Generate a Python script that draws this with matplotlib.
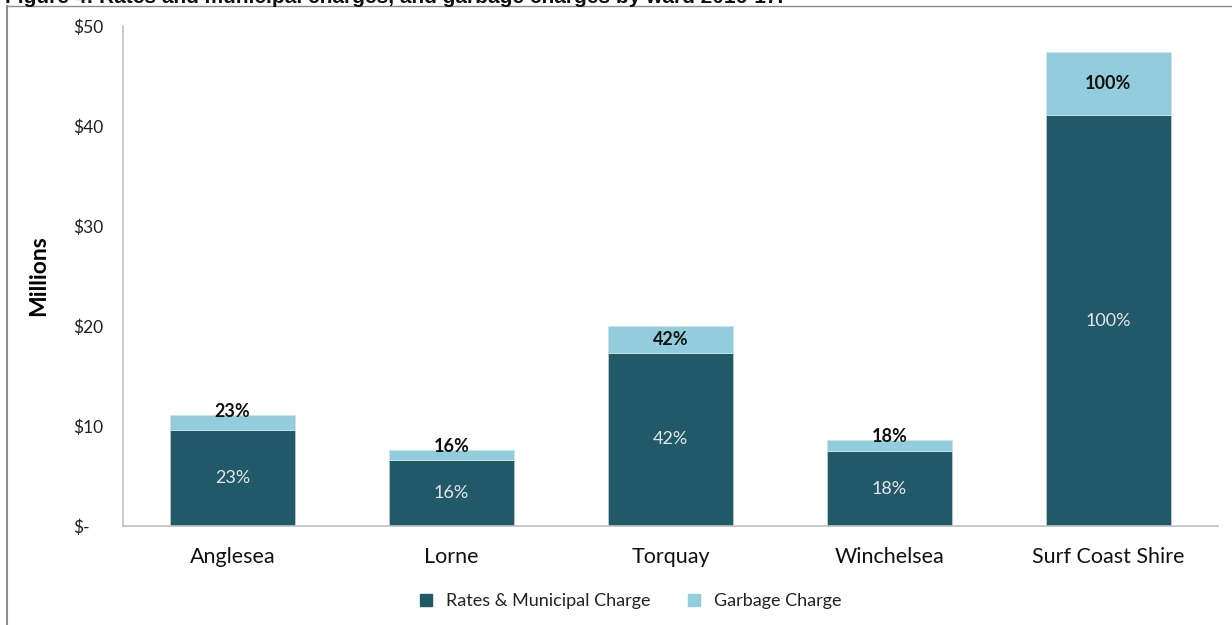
""" Rates and garbage charges by ward, stacked bars """
import matplotlib.pyplot as plt
from matplotlib.lines import Line2D
import numpy as np

plt.rcParams['font.family'] = ['Lato', 'DejaVu Sans']

# $ millions, 2016-17
wards = ['Anglesea', 'Lorne', 'Torquay', 'Winchelsea', 'Surf Coast Shire']
rates = [9.6, 6.6, 17.3, 7.5, 41.1]
garbage = [1.5, 1.0, 2.7, 1.1, 6.3]
y_ticks = [0, 10, 20, 30, 40, 50]
y_tick_labels = ['$-', '$10', '$20', '$30', '$40', '$50']

RATES_COLOUR = '#215968'
GARBAGE_COLOUR = '#93CDDD'

rates = np.array(rates)
garbage = np.array(garbage)
totals = rates + garbage
# share of the shire total (last column)
shares = ['{:.0f}%'.format(100 * r / rates[-1]) for r in rates]

fig = plt.figure(figsize=(12.32, 6.25), dpi=100)
ax = fig.add_axes([123 / 1232, 99 / 625, (1218 - 123) / 1232, 500 / 625])

x = np.arange(len(wards))
width = 0.57
ax.bar(x, rates, width, color=RATES_COLOUR, edgecolor='#b8cdd3', linewidth=0.6,
       label='Rates & Municipal Charge')
ax.bar(x, garbage, width, bottom=rates, color=GARBAGE_COLOUR, edgecolor='#c9e5ec',
       linewidth=0.6, label='Garbage Charge')

for i in range(len(wards)):
    ax.text(x[i], rates[i] / 2, shares[i], ha='center', va='center',
            color='#e3e6e8', fontsize=13)
    if garbage[i] >= 2:
        gy = rates[i] + garbage[i] / 2
    else:
        gy = totals[i] + 0.35
    ax.text(x[i], gy, shares[i], ha='center', va='center', color='#111111',
            fontsize=13, fontweight='bold')

ax.set_xlim(-0.5, len(wards) - 0.5)
ax.set_ylim(0, 50)
ax.set_yticks(y_ticks)
ax.set_yticklabels(y_tick_labels, ha='left', fontsize=12.5, color='#222222')
ax.tick_params(axis='y', length=0, pad=36)
ax.set_xticks(x)
ax.set_xticklabels(wards, fontsize=15.5, color='#111111')
ax.tick_params(axis='x', length=0, pad=15)
ax.set_ylabel('Millions', fontsize=16.5, fontweight='bold', labelpad=17)

for side in ['top', 'right']:
    ax.spines[side].set_visible(False)
for side in ['left', 'bottom']:
    ax.spines[side].set_color('#bfbfbf')
    ax.spines[side].set_linewidth(1.2)

handles = [Line2D([], [], marker='s', linestyle='', markersize=8, color=RATES_COLOUR),
           Line2D([], [], marker='s', linestyle='', markersize=8, color=GARBAGE_COLOUR)]
fig.legend(handles, ['Rates & Municipal Charge', 'Garbage Charge'], loc='center',
           bbox_to_anchor=(625 / 1232, 1 - 601 / 625), ncol=2, frameon=False,
           fontsize=13, handletextpad=0.1, columnspacing=1.4,
           labelcolor='#222222')

# frame around the figure (left and top edges)
fig.add_artist(Line2D([7 / 1232, 7 / 1232], [0, 1 - 6 / 625], color='#8c8c8c',
                      linewidth=1.5, transform=fig.transFigure))
fig.add_artist(Line2D([7 / 1232, 1], [1 - 6 / 625, 1 - 6 / 625], color='#8c8c8c',
                      linewidth=1.0, transform=fig.transFigure))
fig.text(5 / 1232, 1 - 3 / 625,
         'Figure 4: Rates and municipal charges, and garbage charges by ward 2016-17.',
         family='Liberation Sans', fontweight='bold', fontsize=15, va='baseline',
         ha='left', color='#111111')

fig.savefig('out.png', dpi=100)
